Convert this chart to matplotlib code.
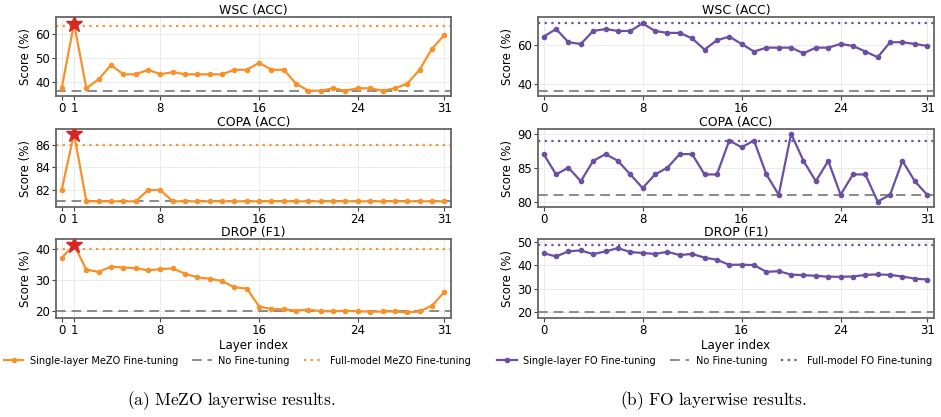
import numpy as np
import matplotlib
matplotlib.use("Agg")
import matplotlib.pyplot as plt
from matplotlib.lines import Line2D
from matplotlib import font_manager

plt.rcParams['mathtext.fontset'] = 'cm'

layers = list(range(32))

# MeZO layerwise (left)
mezo_wsc = [37.5, 64.4, 37.5, 41.3, 47.1, 43.3, 43.3, 45.2, 43.3, 44.2, 43.3, 43.3,
            43.3, 43.3, 45.2, 45.2, 48.1, 45.2, 45.2, 39.4, 36.5, 36.5, 37.5, 36.5,
            37.5, 37.5, 36.5, 37.5, 39.4, 45.2, 53.8, 59.6]
mezo_copa = [82, 87, 81, 81, 81, 81, 81, 82, 82, 81, 81, 81, 81, 81, 81, 81,
             81, 81, 81, 81, 81, 81, 81, 81, 81, 81, 81, 81, 81, 81, 81, 81]
mezo_drop = [37.0, 41.2, 33.2, 32.5, 34.2, 33.9, 33.7, 33.0, 33.4, 33.6, 31.9, 30.7,
             30.3, 29.5, 27.5, 27.1, 21.3, 20.5, 20.4, 20.0, 20.3, 19.8, 19.8, 19.9,
             19.8, 19.6, 19.7, 19.7, 19.4, 19.7, 21.6, 25.9]
mezo_full = [63.5, 86.0, 39.9]

# FO layerwise (right)
fo_wsc = [64.4, 68.3, 61.5, 60.6, 67.3, 68.3, 67.3, 67.3, 71.2, 67.3, 66.3, 66.3,
          63.5, 57.7, 62.5, 64.4, 60.6, 56.7, 58.7, 58.7, 58.7, 55.8, 58.7, 58.7,
          60.6, 59.6, 56.7, 53.8, 61.5, 61.5, 60.6, 59.6]
fo_copa = [87, 84, 85, 83, 86, 87, 86, 84, 82, 84, 85, 87, 87, 84, 84, 89,
           88, 89, 84, 81, 90, 86, 83, 86, 81, 84, 84, 80, 81, 86, 83, 81]
fo_drop = [45.2, 43.8, 46.0, 46.4, 44.8, 46.0, 47.4, 45.7, 45.3, 44.9, 45.8, 44.4,
           44.9, 43.3, 42.4, 40.2, 40.3, 40.1, 37.2, 37.5, 36.0, 35.8, 35.5, 35.1,
           35.1, 35.2, 35.9, 36.1, 35.9, 35.2, 34.3, 33.9]
fo_full = [71.2, 89.0, 48.7]

no_ft = [36.5, 81.0, 19.8]
titles = ["WSC (ACC)", "COPA (ACC)", "DROP (F1)"]

ORANGE = "#f7922a"
PURPLE = "#6a4fa3"
GRAY = "#8a8a8a"

W, H = 941, 417
fig = plt.figure(figsize=(W / 100, H / 100), dpi=100)

rows = [(17, 96), (129, 207), (239, 318)]
cols = [(56, 451), (538, 934)]

left_ylims = [(34.3, 67.1), (80.5, 87.4), (17.6, 43.1)]
right_ylims = [(33.8, 74.5), (79.2, 90.7), (17.4, 51.3)]
left_yticks = [[40, 50, 60], [82, 84, 86], [20, 30, 40]]
right_yticks = [[40, 60], [80, 85, 90], [20, 30, 40, 50]]


def make_ax(col, row):
    x0, x1 = cols[col]
    y0, y1 = rows[row]
    ax = fig.add_axes([x0 / W, 1 - y1 / H, (x1 - x0) / W, (y1 - y0) / H])
    for s in ax.spines.values():
        s.set_color("#666666")
        s.set_linewidth(1.3)
    ax.grid(True, color="#e8e8e8", linewidth=0.6)
    ax.set_axisbelow(True)
    ax.tick_params(labelsize=8.5, length=3, color="#444444", pad=1.5)
    ax.set_xlim(-0.46, 31.55)
    ax.set_ylabel("Score (%)", fontsize=8.5, labelpad=2)
    ax.set_title(titles[row], fontsize=9, pad=2.5)
    return ax


mezo_data = [mezo_wsc, mezo_copa, mezo_drop]
fo_data = [fo_wsc, fo_copa, fo_drop]

for i in range(3):
    # MeZO
    ax = make_ax(0, i)
    ax.axhline(mezo_full[i], color=ORANGE, linestyle=(0, (1, 2)), linewidth=1.6)
    ax.axhline(no_ft[i], color=GRAY, linestyle=(0, (5, 3)), linewidth=1.4)
    ax.plot(layers, mezo_data[i], color=ORANGE, marker="o", markersize=3, linewidth=1.6)
    ax.plot(1, mezo_data[i][1], marker="*", color="#d62728", markersize=12, zorder=5)
    ax.set_xticks([0, 1, 8, 16, 24, 31])
    ax.set_ylim(*left_ylims[i])
    ax.set_yticks(left_yticks[i])
    if i == 2:
        ax.set_xlabel("Layer index", fontsize=8.5, labelpad=1.5)

    # FO
    ax = make_ax(1, i)
    ax.axhline(fo_full[i], color=PURPLE, linestyle=(0, (1, 2)), linewidth=1.6)
    ax.axhline(no_ft[i], color=GRAY, linestyle=(0, (5, 3)), linewidth=1.4)
    ax.plot(layers, fo_data[i], color=PURPLE, marker="o", markersize=3, linewidth=1.6)
    ax.set_xticks([0, 8, 16, 24, 31])
    ax.set_ylim(*right_ylims[i])
    ax.set_yticks(right_yticks[i])
    if i == 2:
        ax.set_xlabel("Layer index", fontsize=8.5, labelpad=1.5)


def legend_handles(color, name):
    return [
        Line2D([], [], color=color, marker="o", markersize=3, linewidth=1.6,
               label=f"Single-layer {name} Fine-tuning"),
        Line2D([], [], color=GRAY, linestyle=(0, (5, 3)), linewidth=1.4, label="No Fine-tuning"),
        Line2D([], [], color=color, linestyle=(0, (1, 2)), linewidth=1.6,
               label=f"Full-model {name} Fine-tuning"),
    ]


# legend text in the reference is horizontally squeezed
leg_font = font_manager.FontProperties(family="DejaVu Sans", stretch="condensed", size=7.8)

fig.legend(handles=legend_handles(ORANGE, "MeZO"), loc="center left",
           bbox_to_anchor=(4 / W, 1 - 361 / H), ncol=3, frameon=False,
           prop=leg_font, handlelength=1.8, columnspacing=1.3, handletextpad=0.6,
           borderaxespad=0, borderpad=0)
fig.legend(handles=legend_handles(PURPLE, "FO"), loc="center left",
           bbox_to_anchor=(497 / W, 1 - 361 / H), ncol=3, frameon=False,
           prop=leg_font, handlelength=1.8, columnspacing=1.3, handletextpad=0.6,
           borderaxespad=0, borderpad=0)

fig.text(231 / W, 1 - 401 / H, r"$\mathrm{(a)\ MeZO\ layerwise\ results.}$",
         ha="center", va="center", fontsize=12.5)
fig.text(713 / W, 1 - 401 / H, r"$\mathrm{(b)\ FO\ layerwise\ results.}$",
         ha="center", va="center", fontsize=12.5)

fig.savefig("out.png", dpi=100)
